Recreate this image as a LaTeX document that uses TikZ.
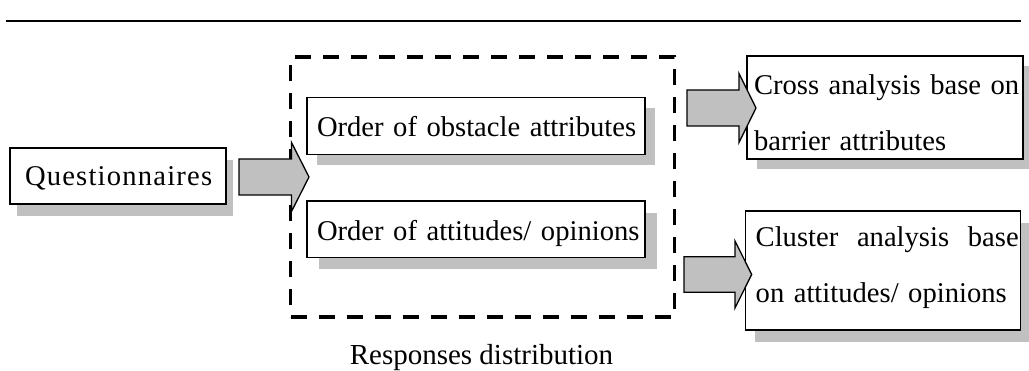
\documentclass[tikz,border=0pt]{standalone}
\usepackage{fontspec}
\setmainfont{Liberation Serif}
\newfontfamily\spacedserif[LetterSpace=4.2]{Liberation Serif}
\usetikzlibrary{shadows,calc}

\definecolor{shadowgray}{HTML}{C0C0C0}
\definecolor{arrowgray}{HTML}{C0C0C0}

\tikzset{
  textbox/.style={draw=black, line width=1.3pt, fill=white, inner ysep=0pt,
    align=left, font=\fontsize{28.6pt}{55.7pt}\selectfont},
  boxshadow/.style 2 args={drop shadow={shadow xshift=#1pt, shadow yshift=-#2pt,
    fill=shadowgray, opacity=1}},
  groupbox/.style={draw=black, line width=3.6pt, dash pattern=on 16pt off 12pt,
    minimum width=384pt, minimum height=260pt, inner sep=0pt},
  blockarrow/.style={draw=black, line width=1.3pt, fill=arrowgray, line join=miter},
  caption/.style={font=\fontsize{29pt}{34pt}\selectfont, inner sep=0pt}
}

% block arrow: #1 tail coordinate, #2 tip coordinate,
% #3 shaft half width, #4 head half width, #5 head length
\newcommand\blockarr[5]{%
  \draw[blockarrow] let \p1=(#1), \p2=(#2) in
    (\x1,\y2+#3) -- (\x2-#5,\y2+#3) -- (\x2-#5,\y2+#4) -- (\x2,\y2)
    -- (\x2-#5,\y2-#4) -- (\x2-#5,\y2-#3) -- (\x1,\y2-#3) -- cycle;}

\begin{document}
\begin{tikzpicture}[x=1pt,y=-1pt]
  \useasboundingbox (0,0) rectangle (1029,371);

  % rule across the top
  \coordinate (ruleL) at (6,21);
  \coordinate (ruleR) at (1021,21);
  \draw[line width=1.6pt] (ruleL) -- (ruleR);

  % dashed group frame and its caption
  \node[groupbox] (grp) at (482.5,187) {};
  \node[caption, anchor=base] (cap) at (481.5,365) {Responses distribution};

  % boxes
  \node[textbox, boxshadow={7}{12}, inner xsep=15pt, text width=186pt,
        text height=37.7pt, text depth=18.3pt] (q) at (118,176)
        {\mbox{\spacedserif Questionnaires}};
  \node[textbox, boxshadow={10}{11}, inner xsep=10pt, text width=318pt,
        text height=39.7pt, text depth=17.3pt] (o1) at (476,125.8)
        {\mbox{Order of obstacle attributes}};
  \node[textbox, boxshadow={12}{12}, inner xsep=10pt, text width=318pt,
        text height=39.7pt, text depth=16.6pt] (o2) at (476,229.2)
        {\mbox{Order of attitudes/ opinions}};
  \node[textbox, boxshadow={10}{10}, inner xsep=7pt, text width=262pt,
        text height=39pt, text depth=64pt] (cr) at (885,107.5)
        {\mbox{Cross analysis base on}\\\mbox{barrier attributes}};
  \node[textbox, boxshadow={9}{12}, inner xsep=10pt, text width=255pt,
        text height=35.7pt, text depth=83.3pt] (cl) at (883.2,270.5)
        {\hbox to 263pt{Cluster\hfill analysis\hfill base}\\\mbox{on attitudes/ opinions}};

  % block arrows
  \coordinate (a1s) at (239,177);
  \coordinate (a1t) at (309,177);
  \blockarr{a1s}{a1t}{18pt}{34.5pt}{17.5pt}
  \coordinate (a2s) at (687,108);
  \coordinate (a2t) at (756,108);
  \blockarr{a2s}{a2t}{18pt}{34.5pt}{17pt}
  \coordinate (a3s) at (684,274.5);
  \coordinate (a3t) at (751.7,274.5);
  \blockarr{a3s}{a3t}{17.8pt}{33.5pt}{16.7pt}
\end{tikzpicture}
\end{document}
